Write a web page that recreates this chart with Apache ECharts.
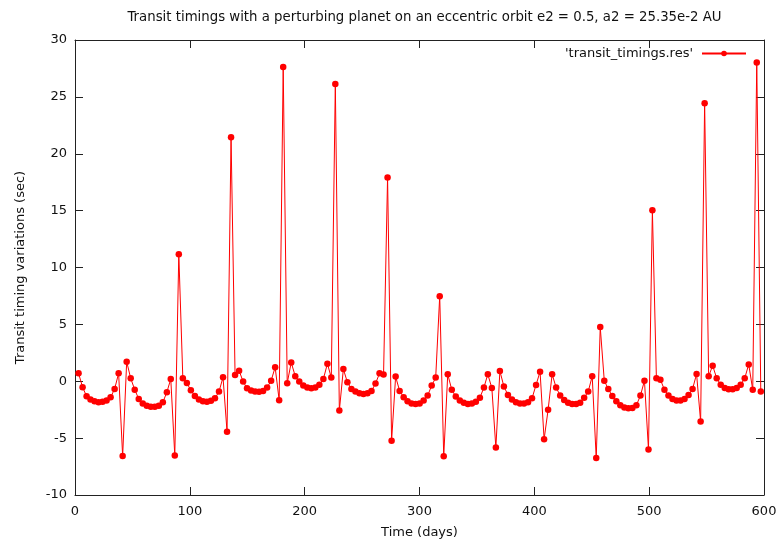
<!DOCTYPE html>
<html>
<head>
<meta charset="utf-8">
<title>Transit timings</title>
<script src="https://cdn.jsdelivr.net/npm/echarts@6/dist/echarts.min.js"></script>
<style>
  html, body { margin: 0; padding: 0; background: #fff; }
  #chart { width: 781px; height: 544px; }
</style>
</head>
<body>
<div id="chart"></div>
<script>
// Transit epochs of the inner planet (days)
const times = [
  3.1, 6.6, 10.1, 13.5, 17.0, 20.5, 24.0, 27.5, 31.0, 34.5, 38.0, 41.5, 45.0,
  48.5, 52.0, 55.5, 59.0, 62.5, 66.0, 69.5, 73.0, 76.5, 80.0, 83.4, 86.9, 90.4,
  93.9, 97.4, 100.9, 104.4, 107.9, 111.4, 114.9, 118.4, 121.9, 125.4, 128.9, 132.4, 135.9,
  139.4, 142.9, 146.4, 149.8, 153.3, 156.8, 160.3, 163.8, 167.3, 170.8, 174.3, 177.8, 181.3,
  184.8, 188.3, 191.8, 195.3, 198.8, 202.3, 205.8, 209.3, 212.8, 216.3, 219.8, 223.2, 226.7, 230.2,
  233.7, 237.2, 240.7, 244.2, 247.7, 251.2, 254.7, 258.2, 261.7, 265.2, 268.7, 272.2, 275.7,
  279.2, 282.7, 286.2, 289.6, 293.1, 296.6, 300.1, 303.6, 307.1, 310.6, 314.1, 317.6, 321.1,
  324.6, 328.1, 331.6, 335.1, 338.6, 342.1, 345.6, 349.1, 352.6, 356.1, 359.5, 363.0, 366.5,
  370.0, 373.5, 377.0, 380.5, 384.0, 387.5, 391.0, 394.5, 398.0, 401.5, 405.0, 408.5, 412.0,
  415.5, 419.0, 422.5, 426.0, 429.4, 432.9, 436.4, 439.9, 443.4, 446.9, 450.4, 453.9, 457.4,
  460.9, 464.4, 467.9, 471.4, 474.9, 478.4, 481.9, 485.4, 488.9, 492.4, 495.9, 499.4, 502.8,
  506.3, 509.8, 513.3, 516.8, 520.3, 523.8, 527.3, 530.8, 534.3, 537.8, 541.3, 544.8, 548.3,
  551.8, 555.3, 558.8, 562.3, 565.8, 569.2, 572.7, 576.2, 579.7, 583.2, 586.7, 590.2, 593.7, 597.2
];

// Transit timing variations (sec)
const ttv = [
  0.70, -0.53, -1.32, -1.61, -1.75, -1.84, -1.81, -1.70, -1.41, -0.68, 0.70, -6.58, 1.72,
  0.26, -0.74, -1.55, -1.95, -2.15, -2.25, -2.25, -2.15, -1.85, -0.96, 0.20, -6.53, 11.17,
  0.26, -0.15, -0.80, -1.30, -1.60, -1.75, -1.80, -1.72, -1.50, -0.91, 0.35, -4.43, 21.46,
  0.55, 0.93, -0.03, -0.62, -0.82, -0.90, -0.92, -0.85, -0.55, 0.05, 1.23, -1.67, 27.63,
  -0.17, 1.65, 0.44, -0.03, -0.38, -0.55, -0.62, -0.55, -0.30, 0.20, 1.54, 0.32, 26.14, -2.58,
  1.07, -0.09, -0.68, -0.90, -1.05, -1.11, -1.05, -0.85, -0.20, 0.70, 0.60, 17.92, -5.24,
  0.41, -0.85, -1.40, -1.75, -1.95, -2.00, -1.95, -1.70, -1.26, -0.38, 0.32, 7.48, -6.60,
  0.61, -0.75, -1.35, -1.70, -1.90, -2.00, -1.95, -1.80, -1.45, -0.55, 0.61, -0.60, -5.83,
  0.90, -0.46, -1.20, -1.60, -1.85, -1.95, -1.95, -1.85, -1.50, -0.32, 0.84, -5.10, -2.50,
  0.61, -0.55, -1.25, -1.65, -1.90, -2.00, -2.00, -1.90, -1.45, -0.91, 0.44, -6.75, 4.76,
  0.05, -0.68, -1.30, -1.75, -2.10, -2.30, -2.37, -2.35, -2.10, -1.26, 0.05, -6.00, 15.03,
  0.26, 0.14, -0.75, -1.25, -1.55, -1.70, -1.70, -1.55, -1.20, -0.68, 0.64, -3.54, 24.45,
  0.44, 1.37, 0.26, -0.30, -0.60, -0.70, -0.70, -0.60, -0.30, 0.26, 1.48, -0.75, 28.03, -0.90
];

const xTicks = [0, 100, 200, 300, 400, 500, 600];
const yTicks = [-10, -5, 0, 5, 10, 15, 20, 25, 30];

const seriesName = "'transit_timings.res'";
const titleText = 'Transit timings with a perturbing planet on an eccentric orbit e2 = 0.5, a2 = 25.35e-2 AU';

const FONT = 'DejaVu Sans';
const INK = '#111';
const FRAME = '#222';

const chart = echarts.init(document.getElementById('chart'), null, { renderer: 'canvas' });

const frameLine = { show: true, onZero: false, lineStyle: { color: FRAME, width: 1 } };
const innerTick = { show: true, inside: true, length: 8, lineStyle: { color: FRAME, width: 1 } };

const xBase = {
  type: 'value',
  min: xTicks[0],
  max: xTicks[xTicks.length - 1],
  interval: xTicks[1] - xTicks[0],
  splitLine: { show: false },
  axisLine: frameLine,
  axisTick: innerTick
};
const yBase = {
  type: 'value',
  min: yTicks[0],
  max: yTicks[yTicks.length - 1],
  interval: yTicks[1] - yTicks[0],
  splitLine: { show: false },
  axisLine: frameLine,
  axisTick: innerTick
};

chart.setOption({
  animation: false,
  backgroundColor: '#fff',
  textStyle: { fontFamily: FONT },
  title: {
    text: titleText,
    left: 419.5,
    textAlign: 'center',
    top: 6,
    textStyle: { fontFamily: FONT, fontSize: 13.3, fontWeight: 'normal', color: INK }
  },
  legend: {
    data: [seriesName],
    right: 29,
    top: 42,
    align: 'right',
    itemWidth: 44,
    itemHeight: 7,
    textStyle: { fontFamily: FONT, fontSize: 13, color: INK, padding: [0, 4, 0, 0] }
  },
  grid: { left: 75, right: 17, top: 40, bottom: 48, containLabel: false },
  xAxis: [
    Object.assign({}, xBase, {
      position: 'bottom',
      name: 'Time (days)',
      nameLocation: 'middle',
      nameGap: 31,
      nameTextStyle: { fontFamily: FONT, fontSize: 13, color: INK },
      axisLabel: { margin: 10, fontFamily: FONT, fontSize: 13, color: INK }
    }),
    Object.assign({}, xBase, {
      position: 'top',
      axisLabel: { show: false }
    })
  ],
  yAxis: [
    Object.assign({}, yBase, {
      position: 'left',
      name: 'Transit timing variations (sec)',
      nameLocation: 'middle',
      nameGap: 48,
      nameTextStyle: { fontFamily: FONT, fontSize: 13, color: INK },
      axisLabel: { margin: 8, fontFamily: FONT, fontSize: 13, color: INK }
    }),
    Object.assign({}, yBase, {
      position: 'right',
      axisLabel: { show: false }
    })
  ],
  series: [{
    name: seriesName,
    type: 'line',
    xAxisIndex: 0,
    yAxisIndex: 0,
    data: times.map((t, i) => [t, ttv[i]]),
    symbol: 'circle',
    symbolSize: 6.5,
    showSymbol: true,
    showAllSymbol: true,
    lineStyle: { color: '#ff0000', width: 1 },
    itemStyle: { color: '#ff0000' },
    emphasis: { disabled: true }
  }]
});
</script>
</body>
</html>
